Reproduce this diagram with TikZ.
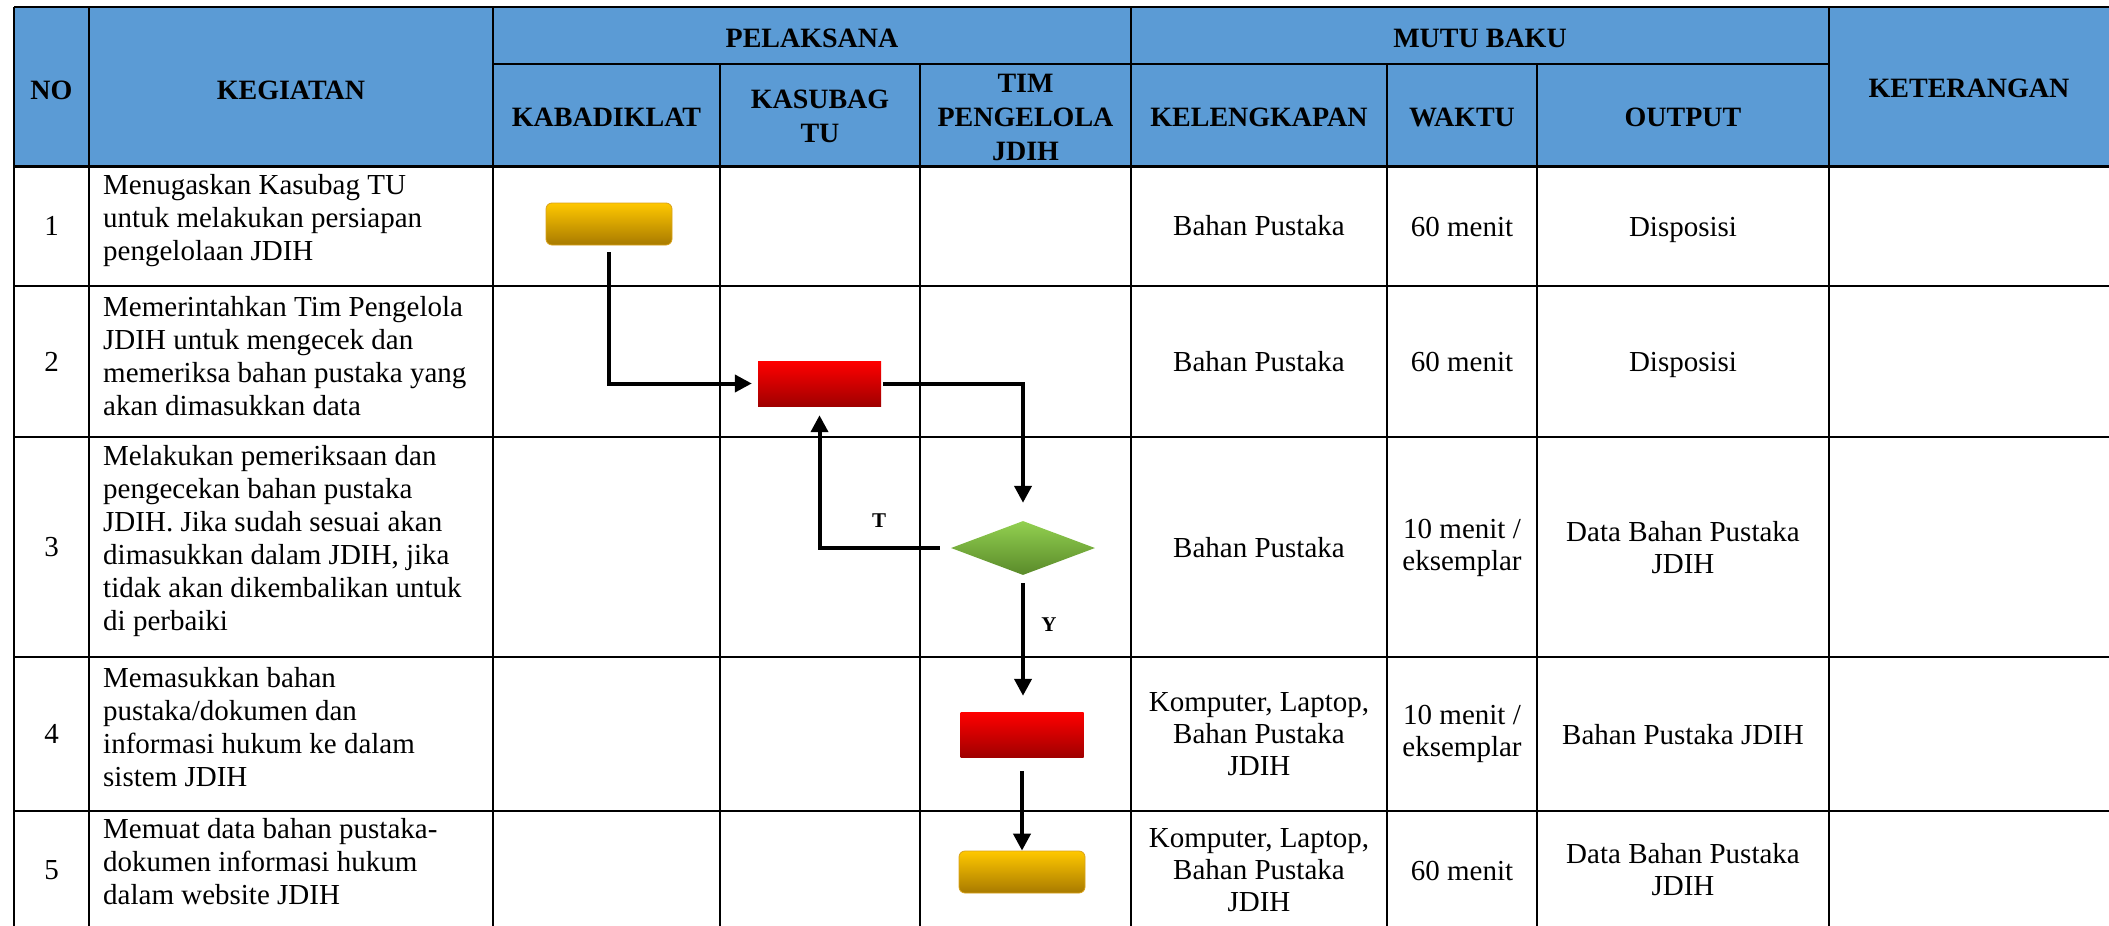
\documentclass[tikz,border=0pt]{standalone}
\usepackage{fontspec}
\setmainfont{Liberation Serif}
\usetikzlibrary{arrows.meta,shapes.geometric}
\definecolor{hdrblue}{HTML}{5B9BD5}
\definecolor{termtop}{HTML}{FFC800}
\definecolor{termbot}{HTML}{A87A00}
\definecolor{termedge}{HTML}{D9A21A}
\definecolor{proctop}{HTML}{FF0000}
\definecolor{procbot}{HTML}{A00000}
\definecolor{dectop}{HTML}{92D050}
\definecolor{decbot}{HTML}{5A8A2A}
\begin{document}
\begin{tikzpicture}[x=1pt,y=-1pt,
  grid/.style={line width=2.3pt, draw=black},
  hdrline/.style={line width=3pt, draw=black},
  hdr/.style={font=\fontsize{28}{34}\selectfont\bfseries, align=center, inner sep=0pt},
  cell/.style={font=\fontsize{29}{32}\selectfont, align=center, inner sep=0pt},
  act/.style={font=\fontsize{29}{33}\selectfont, align=left, inner sep=0pt, anchor=west},
  term/.style={rectangle, rounded corners=6pt, minimum width=126pt, minimum height=42pt, top color=termtop, bottom color=termbot, draw=termedge, line width=0.8pt, inner sep=0pt},
  proc/.style={rectangle, minimum width=123pt, minimum height=45pt, top color=proctop, bottom color=procbot, inner sep=0pt},
  dec/.style={diamond, minimum width=144pt, minimum height=54pt, top color=dectop, bottom color=decbot, inner sep=0pt},
  flow/.style={line width=4pt, -{Triangle[length=17pt,width=17pt]}},
  yn/.style={font=\fontsize{21}{21}\selectfont\bfseries, inner sep=0pt}
]
\useasboundingbox (0,0) rectangle (2109,926);
\clip (0,0) rectangle (2109,926);
% header background
\fill[hdrblue] (14,7) rectangle (2130,166);
% horizontal lines
\draw[grid] (14,7) -- (2130,7);
\draw[grid] (493,64) -- (1829,64);
\draw[hdrline] (14,166) -- (2130,166);
\foreach \yy in {286,437,657,811,929} \draw[grid] (14,\yy) -- (2130,\yy);
% vertical lines
\foreach \xx in {14,89,493,1131,1829} \draw[grid] (\xx,7) -- (\xx,940);
\foreach \xx in {720,920,1387,1537} \draw[grid] (\xx,64) -- (\xx,940);
% header texts
\node[hdr] (hno) at (51.5,90) {NO};
\node[hdr] (hkeg) at (291,90) {KEGIATAN};
\node[hdr] (hpel) at (812,38) {PELAKSANA};
\node[hdr] (hmutu) at (1480,38) {MUTU BAKU};
\node[hdr] (hket) at (1969,88) {KETERANGAN};
\node[hdr] (hkab) at (606.5,117) {KABADIKLAT};
\node[hdr] (hkas) at (820,116) {KASUBAG\\TU};
\node[hdr] (htim) at (1025.5,117) {TIM\\PENGELOLA\\JDIH};
\node[hdr] (hkel) at (1259,117) {KELENGKAPAN};
\node[hdr] (hwak) at (1462,117) {WAKTU};
\node[hdr] (hout) at (1683,117) {OUTPUT};
% numbers
\node[cell] (n1) at (51.5,226) {1};
\node[cell] (n2) at (51.5,361.5) {2};
\node[cell] (n3) at (51.5,547) {3};
\node[cell] (n4) at (51.5,734) {4};
\node[cell] (n5) at (51.5,870) {5};
% activities
\node[act] (k1) at (103,221) {Menugaskan Kasubag TU\\untuk melakukan persiapan\\pengelolaan JDIH};
\node[act] (k2) at (103,356) {Memerintahkan Tim Pengelola\\JDIH untuk mengecek dan\\memeriksa bahan pustaka yang\\akan dimasukkan data};
\node[act] (k3) at (103,541) {Melakukan pemeriksaan dan\\pengecekan bahan pustaka\\JDIH. Jika sudah sesuai akan\\dimasukkan dalam JDIH, jika\\tidak akan dikembalikan untuk\\di perbaiki};
\node[act] (k4) at (103,727) {Memasukkan bahan\\pustaka/dokumen dan\\informasi hukum ke dalam\\sistem JDIH};
\node[act] (k5) at (103,862) {Memuat data bahan pustaka-\\dokumen informasi hukum\\dalam website JDIH};
% kelengkapan
\node[cell] (l1) at (1259,226) {Bahan Pustaka};
\node[cell] (l2) at (1259,361.5) {Bahan Pustaka};
\node[cell] (l3) at (1259,548) {Bahan Pustaka};
\node[cell] (l4) at (1259,734) {Komputer, Laptop,\\Bahan Pustaka\\JDIH};
\node[cell] (l5) at (1259,870) {Komputer, Laptop,\\Bahan Pustaka\\JDIH};
% waktu
\node[cell] (w1) at (1462,227) {60 menit};
\node[cell] (w2) at (1462,362) {60 menit};
\node[cell] (w3) at (1462,548) {10 menit /\\eksemplar};
\node[cell] (w4) at (1462,734) {10 menit /\\eksemplar};
\node[cell] (w5) at (1462,871) {60 menit};
% output
\node[cell] (o1) at (1683,230) {Disposisi};
\node[cell] (o2) at (1683,365) {Disposisi};
\node[cell] (o3) at (1683,548) {Data Bahan Pustaka\\JDIH};
\node[cell] (o4) at (1683,735) {Bahan Pustaka JDIH};
\node[cell] (o5) at (1683,870) {Data Bahan Pustaka\\JDIH};
% flow shapes
\node[term] (s1) at (609,224) {};
\node[proc] (p1) at (819.5,383.5) {};
\node[dec] (d1) at (1023,548) {};
\node[proc] (p2) at (1022,734.5) {};
\node[term] (s2) at (1022,872) {};
% connectors
\draw[flow, shorten <=7pt, shorten >=6pt] (s1.south) |- (p1.west);
\draw[flow, shorten <=2pt, shorten >=18pt] (p1.east) -| (d1.north);
\draw[flow, shorten <=11pt, shorten >=9pt] (d1.west) -| (p1.south);
\draw[flow, shorten <=8pt, shorten >=16pt] (d1.south) -- (d1.south |- p2.north);
\draw[flow, shorten <=14pt, shorten >=0pt] (p2.south) -- (s2.north);
\node[yn] (lt) at (879,521) {T};
\node[yn] (ly) at (1049,625) {Y};
\end{tikzpicture}
\end{document}
